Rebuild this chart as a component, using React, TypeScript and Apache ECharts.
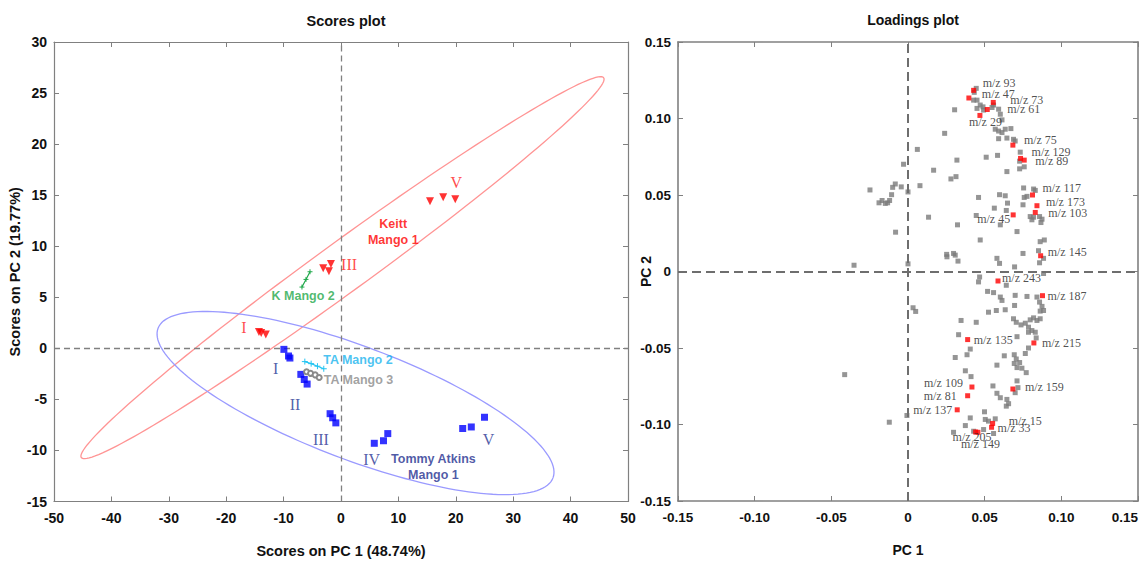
import React, { useEffect, useRef } from "react";
import * as echarts from "echarts";

// ---------- Scores plot data ----------
const keittScores: [number, number][] = [
  [-14.3, 1.6], [-13.9, 1.5], [-13.1, 1.35],
  [-3.1, 7.85], [-2.1, 7.55], [-1.75, 8.25],
  [15.5, 14.4], [17.8, 14.8], [19.9, 14.6],
];
const tommyScores: [number, number][] = [
  [-9.95, -0.1], [-9.15, -0.75], [-8.9, -0.95],
  [-7.0, -2.55], [-6.4, -3.05], [-5.9, -3.5],
  [-1.9, -6.4], [-1.45, -6.8], [-0.9, -7.3],
  [5.8, -9.3], [7.4, -9.05], [8.15, -8.35],
  [21.2, -7.85], [22.7, -7.7], [25.0, -6.75],
];
const kMango2: [number, number][] = [[-6.8, 6.0], [-6.1, 6.75], [-5.4, 7.5]];
const taMango2: [number, number][] = [[-6.3, -1.3], [-5.2, -1.5], [-4.1, -1.75], [-3.0, -2.0]];
const taMango3: [number, number][] = [[-6.0, -2.3], [-5.3, -2.45], [-4.5, -2.6], [-3.8, -2.85]];

// ellipse: centre, half major-axis vector, conjugate half minor-axis vector (data units)
const keittEllipse = [0.26, 7.9, 45.5, 18.6, 2.57, -1.98];
const tommyEllipse = [2.53, -5.36, 34.4, -7.33, -3.5, -5.17];

const scoreLabels = [
  "Keitt\nMango 1", "V", "III", "I", "K Mango 2", "TA Mango 2", "TA Mango 3",
  "I", "II", "III", "IV", "V", "Tommy Atkins\nMango 1",
];
const scoreLabelPos: [number, number][] = [
  [9.1, 11.4], [20.1, 16.2], [1.4, 8.25], [-16.9, 2.0], [-6.6, 5.15], [-3.1, -1.15], [-3.0, -3.1],
  [-11.4, -2.0], [-8.0, -5.5], [-3.5, -8.9], [5.35, -10.9], [25.7, -8.9], [16.1, -11.6],
];
const scoreLabelKind = [
  "boldRed", "romanRed", "romanRed", "romanRed", "boldGreen", "boldCyan", "boldGray",
  "romanBlue", "romanBlue", "romanBlue", "romanBlue", "romanBlue", "boldNavy",
];

// ---------- Loadings plot data ----------
const loadingsGray: [number, number][] = [
  [0.0239, 0.0903], [0.0061, 0.0798], [-0.0029, 0.0701], [0.0319, 0.0728], [0.0167, 0.0662],
  [0.028, 0.0605], [0.0313, 0.062], [0.0078, 0.0561], [-0.0248, 0.0533], [-0.0189, 0.0449],
  [-0.0169, 0.0464], [-0.0148, 0.0445], [-0.0133, 0.0449], [-0.012, 0.0464], [-0.0107, 0.0502],
  [-0.01, 0.055], [-0.0083, 0.0572], [-0.0044, 0.0553], [0.0, 0.052], [-0.0081, 0.0257],
  [0.0134, 0.0355], [0.0323, 0.0305], [-0.0352, 0.0041], [0.0, 0.005], [0.0252, 0.0112],
  [0.0254, 0.0096], [0.0297, 0.0118], [0.0308, 0.0107], [0.0326, 0.0068], [0.0033, -0.0237],
  [0.005, -0.0261], [0.033, -0.0413], [0.0308, -0.0562], [-0.0413, -0.0674], [-0.0122, -0.0985],
  [-0.0007, -0.0941], [0.0297, -0.1051],
  [0.0445, 0.1197], [0.0432, 0.1171], [0.0428, 0.112], [0.045, 0.112], [0.0471, 0.1088],
  [0.0489, 0.1076], [0.045, 0.1066], [0.0493, 0.1055], [0.0548, 0.1072], [0.0558, 0.1088],
  [0.0591, 0.1061], [0.0602, 0.1028], [0.0304, 0.1057], [0.0613, 0.0991], [0.0569, 0.093],
  [0.0591, 0.0918], [0.0613, 0.0908], [0.0634, 0.093], [0.0671, 0.0934], [0.0591, 0.0868],
  [0.0645, 0.0872], [0.0688, 0.0864], [0.0699, 0.0853], [0.051, 0.0747], [0.0584, 0.0759],
  [0.0645, 0.0653], [0.0732, 0.078], [0.0728, 0.0721], [0.0758, 0.0684], [0.0728, 0.0671],
  [0.0754, 0.0546], [0.0819, 0.0539], [0.083, 0.053], [0.0758, 0.0484], [0.0776, 0.0491],
  [0.0597, 0.0502], [0.0634, 0.0495], [0.046, 0.0484], [0.0649, 0.0447], [0.0563, 0.0414],
  [0.075, 0.0436], [0.0641, 0.0399], [0.0445, 0.0366], [0.0602, 0.0305], [0.0797, 0.0359],
  [0.0819, 0.0355], [0.0858, 0.0359], [0.0874, 0.0342], [0.0867, 0.032], [0.0808, 0.0338],
  [0.0711, 0.0261], [0.0471, 0.0206], [0.0862, 0.0195], [0.0889, 0.0206],
  [0.0851, 0.0136], [0.0884, 0.0086], [0.0858, 0.0057], [0.058, 0.0086], [0.0597, 0.0053],
  [0.075, 0.0118], [0.0695, 0.003], [0.0884, -0.0013], [0.0467, -0.0036], [0.046, -0.0068],
  [0.0641, -0.009], [0.0519, -0.013], [0.0558, -0.0138], [0.0602, -0.0167], [0.0613, -0.0189],
  [0.0699, -0.0156], [0.0776, -0.0163], [0.0841, -0.0167], [0.0858, -0.02], [0.0874, -0.0228],
  [0.0884, -0.0255], [0.0862, -0.0259], [0.0525, -0.0266], [0.0576, -0.0255], [0.0634, -0.025],
  [0.0695, -0.0222], [0.0346, -0.032], [0.0445, -0.0332], [0.0688, -0.0309], [0.0706, -0.0332],
  [0.0737, -0.0349], [0.0765, -0.0338], [0.0797, -0.0316], [0.0819, -0.0303], [0.0841, -0.032],
  [0.0862, -0.0309], [0.0786, -0.0364], [0.0808, -0.0386], [0.083, -0.0397], [0.0786, -0.0397],
  [0.0711, -0.0426], [0.0836, -0.0434], [0.0406, -0.0507], [0.0385, -0.0544], [0.0628, -0.0551],
  [0.0693, -0.0544], [0.0706, -0.0572], [0.0728, -0.0595], [0.0786, -0.05], [0.0765, -0.0536],
  [0.0693, -0.0601], [0.0711, -0.0628], [0.0743, -0.0632], [0.0771, -0.0661], [0.0374, -0.0649],
  [0.0411, -0.0687], [0.058, -0.0612], [0.0711, -0.0715], [0.0554, -0.0748], [0.058, -0.0796],
  [0.0602, -0.0825], [0.0645, -0.0836], [0.0656, -0.0864], [0.0717, -0.0759], [0.0699, -0.0792],
  [0.0406, -0.0957], [0.0374, -0.1007], [0.0504, -0.0967], [0.0525, -0.0978], [0.0569, -0.0963],
  [0.0493, -0.1033], [0.0499, -0.0917], [0.0558, -0.1059], [0.0641, -0.088], [0.0428, -0.1044],
];

const loadingsRedNames = [
  "m/z 93", "m/z 47", "m/z 73", "m/z 61", "m/z 29", "m/z 75", "m/z 129", "m/z 89",
  "m/z 117", "m/z 173", "m/z 103", "m/z 45", "m/z 145", "m/z 243", "m/z 187", "m/z 135",
  "m/z 215", "m/z 109", "m/z 81", "m/z 137", "m/z 159", "m/z 15", "m/z 33", "m/z 205", "m/z 149",
];
const loadingsRed: [number, number][] = [
  [0.0428, 0.1184], [0.0397, 0.1134], [0.0556, 0.1105], [0.0517, 0.1059], [0.0469, 0.102],
  [0.0684, 0.0826], [0.0734, 0.0739], [0.0758, 0.0728], [0.0812, 0.05], [0.0841, 0.043],
  [0.083, 0.0386], [0.0686, 0.037], [0.0865, 0.0103], [0.0587, -0.0062], [0.0877, -0.0158],
  [0.0389, -0.0445], [0.0821, -0.0467], [0.0417, -0.0755], [0.0389, -0.0812], [0.0321, -0.0904],
  [0.0684, -0.0768], [0.0552, -0.0993], [0.0545, -0.1018], [0.0441, -0.1049], [0.0456, -0.1051],
];
// label placement (pixel offset from point, text alignment)
const loadingsLabelOffset: [number, number, string][] = [
  [9, -7, "left"], [13, -4, "left"], [17, -2, "left"], [20, 0, "left"], [-11, 7, "left"],
  [11, -5, "left"], [11, -6, "left"], [11, 1, "left"], [10, -7, "left"], [9, -4, "left"],
  [13, 1, "left"], [-3, 4, "right"], [7, -4, "left"], [4, -3, "left"], [5, 0, "left"],
  [6, 0, "left"], [8, 0, "left"], [-9, -4, "right"], [-11, 0, "right"], [-5, 0, "right"],
  [12, -2, "left"], [16, -2, "left"], [6, 1, "left"], [-23, 5, "left"], [-17, 12, "left"],
];

const kindStyle: Record<string, any> = {
  boldRed: { color: "#ff0000", fontWeight: "bold", fontFamily: "Liberation Sans, Arial, sans-serif", fontSize: 12.5, lineHeight: 16 },
  romanRed: { color: "#ff1a1a", fontFamily: "Liberation Serif, Times New Roman, serif", fontSize: 16 },
  boldGreen: { color: "#1fa84a", fontWeight: "bold", fontFamily: "Liberation Sans, Arial, sans-serif", fontSize: 12.5 },
  boldCyan: { color: "#1ab4ee", fontWeight: "bold", fontFamily: "Liberation Sans, Arial, sans-serif", fontSize: 12.5, align: "left" },
  boldGray: { color: "#8a8a8a", fontWeight: "bold", fontFamily: "Liberation Sans, Arial, sans-serif", fontSize: 12.5, align: "left" },
  romanBlue: { color: "#283593", fontFamily: "Liberation Serif, Times New Roman, serif", fontSize: 16 },
  boldNavy: { color: "#1f2f8f", fontWeight: "bold", fontFamily: "Liberation Sans, Arial, sans-serif", fontSize: 12.5, lineHeight: 16 },
};

const AXIS_GRAY = "#808080";
const SANS = "Liberation Sans, Arial, sans-serif";

function fmtLoad(v: number) {
  if (Math.abs(v) < 1e-9) return "0";
  return v.toFixed(2);
}

function boxAxes(
  gridIndex: number,
  min: number,
  max: number,
  interval: number,
  fmt: (v: number) => string,
  fontSize: number,
  name: string,
  nameGap: number,
  dir: "x" | "y",
  lineWidth: number,
  alignMax?: string
) {
  const common = {
    gridIndex,
    type: "value",
    min,
    max,
    interval,
    splitLine: { show: false },
    axisLine: { show: true, onZero: false, lineStyle: { color: AXIS_GRAY, width: lineWidth } },
    axisTick: { show: true, inside: true, length: 5, lineStyle: { color: AXIS_GRAY, width: 1 } },
  };
  const main = {
    ...common,
    position: dir === "x" ? "bottom" : "left",
    name,
    nameLocation: "middle",
    nameGap,
    nameMoveOverlap: false,
    nameTextStyle: { color: "#111", fontWeight: "bold", fontFamily: SANS, fontSize: fontSize + 0.5 },
    axisLabel: {
      show: true,
      color: "#111",
      fontWeight: "bold",
      fontFamily: SANS,
      fontSize,
      margin: dir === "x" ? 9 : 7,
      formatter: fmt,
      ...(alignMax ? { alignMaxLabel: alignMax } : {}),
    },
  };
  const opp = {
    ...common,
    position: dir === "x" ? "top" : "right",
    axisLabel: { show: false },
  };
  return [main, opp];
}

export default function App() {
  const ref = useRef<HTMLDivElement>(null);

  useEffect(() => {
    if (!ref.current) return;
    const chart = echarts.init(ref.current, null, { renderer: "svg" });

    const ellipseRender = (params: any, api: any) => {
      const cx = api.value(0), cy = api.value(1);
      const ax = api.value(2), ay = api.value(3);
      const bx = api.value(4), by = api.value(5);
      const pts: number[][] = [];
      const N = 160;
      for (let i = 0; i <= N; i++) {
        const t = (2 * Math.PI * i) / N;
        pts.push(api.coord([cx + ax * Math.cos(t) + bx * Math.sin(t), cy + ay * Math.cos(t) + by * Math.sin(t)]));
      }
      return {
        type: "polyline",
        shape: { points: pts },
        style: { fill: "none", stroke: api.visual("color"), lineWidth: 1.3 },
      };
    };

    const [lx, lxTop] = boxAxes(0, -50, 50, 10, (v) => String(v), 14, "Scores on PC 1 (48.74%)", 42, "x", 1.2);
    const [ly, lyRight] = boxAxes(0, -15, 30, 5, (v) => String(v), 14, "Scores on PC 2 (19.77%)", 32, "y", 1.2);
    const [rx, rxTop] = boxAxes(1, -0.15, 0.15, 0.05, fmtLoad, 13.5, "PC 1", 42, "x", 1.6, "right");
    const [ry, ryRight] = boxAxes(1, -0.15, 0.15, 0.05, fmtLoad, 13.5, "PC 2", 25, "y", 1.6);

    const labelData = scoreLabels.map((t, i) => {
      const st = kindStyle[scoreLabelKind[i]];
      return {
        value: scoreLabelPos[i],
        name: t,
        label: {
          show: true,
          position: "inside",
          verticalAlign: "middle",
          align: st.align || "center",
          formatter: t,
          ...st,
        },
      };
    });

    const redData = loadingsRed.map((p, i) => {
      const [dx, dy, al] = loadingsLabelOffset[i];
      return {
        value: p,
        name: loadingsRedNames[i],
        label: {
          show: true,
          position: "inside",
          align: al,
          verticalAlign: "middle",
          offset: [dx, dy],
          formatter: loadingsRedNames[i],
          color: "#222",
          fontFamily: "Liberation Serif, Times New Roman, serif",
          fontSize: 12,
        },
      };
    });

    const option: any = {
      animation: false,
      backgroundColor: "#ffffff",
      title: [
        { text: "Scores plot", left: 341, top: 8, textAlign: "center", textStyle: { fontFamily: SANS, fontWeight: "bold", fontSize: 14.5, color: "#111" } },
        { text: "Loadings plot", left: 908, top: 8, textAlign: "center", textStyle: { fontFamily: SANS, fontWeight: "bold", fontSize: 14, color: "#111" } },
      ],
      grid: [
        { left: 54, top: 42, width: 574, height: 459.5, containLabel: false, outerBoundsMode: "none" },
        { left: 678, top: 42, width: 460, height: 459, containLabel: false, outerBoundsMode: "none" },
      ],
      xAxis: [lx, lxTop, rx, rxTop],
      yAxis: [ly, lyRight, ry, ryRight],
      series: [
        {
          type: "custom",
          name: "keittEllipse",
          xAxisIndex: 0,
          yAxisIndex: 0,
          renderItem: ellipseRender,
          itemStyle: { color: "#ff9494" },
          data: [keittEllipse],
          z: 1,
          silent: true,
        },
        {
          type: "custom",
          name: "tommyEllipse",
          xAxisIndex: 0,
          yAxisIndex: 0,
          renderItem: ellipseRender,
          itemStyle: { color: "#9a9aff" },
          data: [tommyEllipse],
          z: 1,
          silent: true,
        },
        {
          type: "line",
          name: "zeroLeft",
          xAxisIndex: 0,
          yAxisIndex: 0,
          data: [],
          markLine: {
            silent: true,
            symbol: "none",
            label: { show: false },
            lineStyle: { type: [6, 4], color: "#808080", width: 1.3 },
            data: [{ xAxis: 0 }, { yAxis: 0 }],
          },
          z: 2,
        },
        {
          type: "scatter",
          name: "Keitt Mango 1",
          xAxisIndex: 0,
          yAxisIndex: 0,
          symbol: "triangle",
          symbolRotate: 180,
          symbolSize: 8,
          itemStyle: { color: "#ff0000" },
          data: keittScores,
          z: 5,
        },
        {
          type: "scatter",
          name: "Tommy Atkins Mango 1",
          xAxisIndex: 0,
          yAxisIndex: 0,
          symbol: "rect",
          symbolSize: 7,
          itemStyle: { color: "#0000ff" },
          data: tommyScores,
          z: 5,
        },
        {
          type: "line",
          name: "K Mango 2",
          xAxisIndex: 0,
          yAxisIndex: 0,
          data: kMango2,
          symbol: "path://M0,5L10,5M5,0L5,10",
          symbolSize: 5,
          showSymbol: true,
          lineStyle: { color: "#1fa84a", width: 1.2 },
          itemStyle: { color: "none", borderColor: "#1fa84a", borderWidth: 1 },
          z: 5,
        },
        {
          type: "line",
          name: "TA Mango 2",
          xAxisIndex: 0,
          yAxisIndex: 0,
          data: taMango2,
          symbol: "path://M0,5L10,5M5,0L5,10",
          symbolSize: 6,
          showSymbol: true,
          lineStyle: { color: "#22c4f2", width: 1.2 },
          itemStyle: { color: "none", borderColor: "#22c4f2", borderWidth: 1 },
          z: 5,
        },
        {
          type: "line",
          name: "TA Mango 3",
          xAxisIndex: 0,
          yAxisIndex: 0,
          data: taMango3,
          symbol: "emptyCircle",
          symbolSize: 5,
          showSymbol: true,
          lineStyle: { color: "#8a8a8a", width: 1 },
          itemStyle: { color: "#8a8a8a", borderColor: "#8a8a8a", borderWidth: 1 },
          z: 5,
        },
        {
          type: "scatter",
          name: "scoreLabels",
          xAxisIndex: 0,
          yAxisIndex: 0,
          symbolSize: 1,
          itemStyle: { color: "rgba(0,0,0,0)" },
          data: labelData,
          z: 6,
          silent: true,
        },
        // loadings
        {
          type: "line",
          name: "zeroRight",
          xAxisIndex: 2,
          yAxisIndex: 2,
          data: [],
          markLine: {
            silent: true,
            symbol: "none",
            label: { show: false },
            lineStyle: { type: [9, 5], color: "#6e6e6e", width: 2 },
            data: [{ xAxis: 0 }, { yAxis: 0 }],
          },
          z: 2,
        },
        {
          type: "scatter",
          name: "loadings",
          xAxisIndex: 2,
          yAxisIndex: 2,
          symbol: "rect",
          symbolSize: 5,
          itemStyle: { color: "#7a7a7a" },
          data: loadingsGray,
          z: 4,
        },
        {
          type: "scatter",
          name: "selected loadings",
          xAxisIndex: 2,
          yAxisIndex: 2,
          symbol: "rect",
          symbolSize: 5,
          itemStyle: { color: "#ff0000" },
          data: redData,
          z: 5,
        },
      ],
    };

    chart.setOption(option);
    return () => chart.dispose();
  }, []);

  return (
    <div
      ref={ref}
      style={{ position: "fixed", left: 0, top: 0, width: 1143, height: 561, background: "#fff" }}
    />
  );
}
